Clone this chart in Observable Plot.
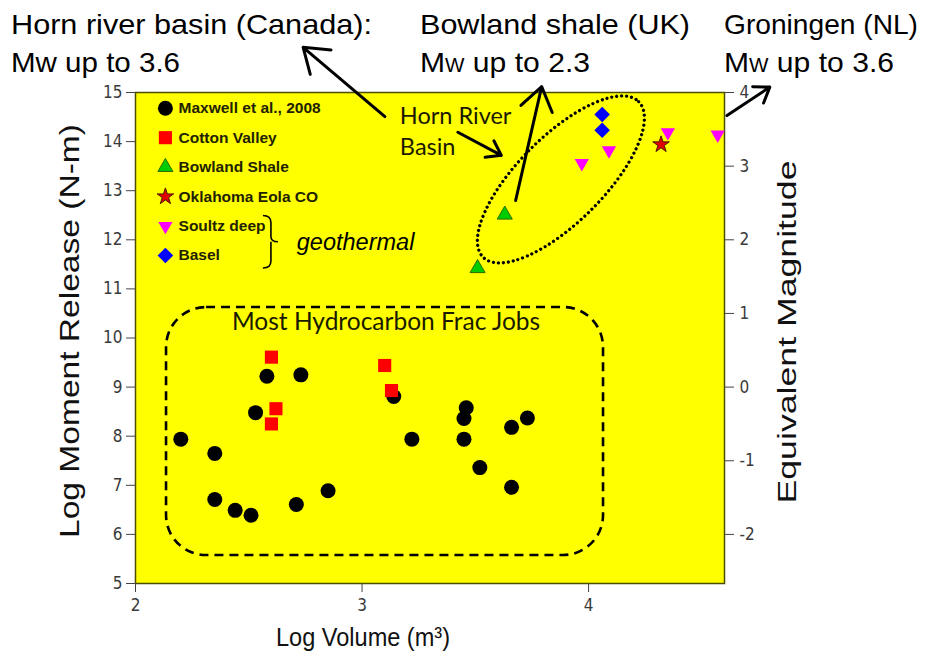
<!DOCTYPE html>
<html>
<head>
<meta charset="utf-8">
<script src="https://cdn.jsdelivr.net/npm/d3@7"></script>
<script src="https://cdn.jsdelivr.net/npm/@observablehq/plot@0.6"></script>
<style>
  html, body { margin: 0; padding: 0; background: #ffffff; }
  #chart svg { display: block; }
</style>
</head>
<body>
<div id="chart"></div>
<script>
// ---- Data: log injected volume (m^3) vs. log seismic moment release (N-m) ----
const seriesNames = ["Maxwell et al., 2008", "Cotton Valley", "Bowland Shale", "Oklahoma Eola CO", "Soultz deep", "Basel"];

const maxwellVolume = [2.20, 2.35, 2.35, 2.44, 2.51, 2.53, 2.58, 2.73, 2.71, 2.85, 3.14, 3.22, 3.46, 3.45, 3.45, 3.52, 3.66, 3.73, 3.66];
const maxwellMoment = [7.94, 7.65, 6.71, 6.49, 6.39, 8.48, 9.22, 9.25, 6.61, 6.89, 8.81, 7.94, 8.58, 8.36, 7.94, 7.36, 8.18, 8.37, 6.96];

const cottonVolume = [2.60, 2.62, 2.60, 3.10, 3.13];
const cottonMoment = [9.61, 8.56, 8.25, 9.44, 8.93];

const bowlandVolume = [3.63, 3.51];
const bowlandMoment = [12.51, 11.42];

const oklahomaVolume = [4.32];
const oklahomaMoment = [13.94];

const soultzVolume = [3.97, 4.09, 4.35, 4.57];
const soultzMoment = [13.56, 13.82, 14.19, 14.14];

const baselVolume = [4.06, 4.06];
const baselMoment = [14.55, 14.23];

// ---- Axes ----
const xTicks = [2, 3, 4];
const yTicks = [5, 6, 7, 8, 9, 10, 11, 12, 13, 14, 15];
const magnitudeTicks = [-2, -1, 0, 1, 2, 3, 4];
// Mw = (2/3) log M0 - 6  ->  log M0 = 1.5 (Mw + 6)
const momentOfMagnitude = m => 1.5 * (m + 6);

// ---- Annotation geometry (data units) ----
const hydrocarbonBox = {x1: 2.137, x2: 4.066, y1: 5.57, y2: 10.62};
const pointers = [
  {x1: 3.101, y1: 14.51, x2: 2.740, y2: 15.92},  // Horn River Basin -> Canada title
  {x1: 3.423, y1: 14.19, x2: 3.615, y2: 13.72},  // label -> ellipse
  {x1: 3.678, y1: 12.80, x2: 3.793, y2: 15.12},  // Bowland -> UK title
  {x1: 4.611, y1: 14.53, x2: 4.800, y2: 15.11}   // Groningen title
];
const basinEllipse = {x: 3.880, y: 13.22, rx: 110, ry: 43, angle: -45};
const legendSymbolX = 2.132, legendTextX = 2.19, legendTop = 14.68, legendStep = 0.6;

const series = [
  {name: seriesNames[0], volume: maxwellVolume, moment: maxwellMoment},
  {name: seriesNames[1], volume: cottonVolume, moment: cottonMoment},
  {name: seriesNames[2], volume: bowlandVolume, moment: bowlandMoment},
  {name: seriesNames[3], volume: oklahomaVolume, moment: oklahomaMoment},
  {name: seriesNames[4], volume: soultzVolume, moment: soultzMoment},
  {name: seriesNames[5], volume: baselVolume, moment: baselMoment}
];
const rows = series.flatMap(s => s.volume.map((v, i) => ({series: s.name, volume: v, moment: s.moment[i]})));

const markStyle = {
  "Maxwell et al., 2008": {symbol: "circle", r: 7.5, fill: "#000000", stroke: "none"},
  "Cotton Valley":        {symbol: "square", r: 7.4, fill: "#ff0000", stroke: "none"},
  "Bowland Shale":        {symbol: "triangle", r: 5.6, fill: "#00cc00", stroke: "#2e6b00", strokeWidth: 1},
  "Oklahoma Eola CO":     {symbol: "star", r: 5.2, fill: "#e00000", stroke: "#4a1a00", strokeWidth: 1},
  "Soultz deep":          {symbol: "triangle", r: 5.3, fill: "#ff00ff", stroke: "none", rotate: 180},
  "Basel":                {symbol: "square", r: 6.2, fill: "#0000ff", stroke: "none", rotate: 45}
};

const sans = "Liberation Sans, Arial, Helvetica, sans-serif";
const humanist = "Lato, 'Open Sans', sans-serif";

const titleLeft = "Log Moment Release (N-m)";
const titleRight = "Equivalent Magnitude";
const titleBottom = "Log Volume (m³)";

const chart = Plot.plot({
  width: 940,
  height: 662,
  marginLeft: 135,
  marginRight: 216,
  marginTop: 92,
  marginBottom: 79,
  style: {fontFamily: "'Liberation Sans Narrow', 'Arial Narrow', 'DejaVu Sans Condensed', sans-serif", fontSize: "17px", color: "#3a3a3a", background: "#ffffff"},
  x: {domain: [2, 4.6]},
  y: {domain: [5, 15]},
  marks: [
    Plot.frame({fill: "#ffff00", stroke: "#4d4d00", strokeWidth: 1.5}),
    Plot.axisX(xTicks, {tickSize: 9, tickPadding: 6, label: null, stroke: "#444", tickFormat: d => String(d)}),
    Plot.axisY(yTicks, {anchor: "left", tickSize: 9, tickPadding: 4, label: null, stroke: "#444", tickFormat: d => String(d)}),
    Plot.axisY(magnitudeTicks.map(momentOfMagnitude), {
      anchor: "right", tickSize: 9, tickPadding: 6, label: null, stroke: "#444",
      tickFormat: d => String(Math.round(d / 1.5 - 6))
    }),
    // Hydrocarbon fracturing envelope
    Plot.rect([hydrocarbonBox], {
      x1: "x1", x2: "x2", y1: "y1", y2: "y2", rx: 40,
      fill: "none", stroke: "#000", strokeWidth: 2.6, strokeDasharray: "9,6"
    }),
    Plot.text(["Most Hydrocarbon Frac Jobs"], {
      x: () => 3.106, y: () => 10.32, fontFamily: humanist, fontSize: 24.5, fill: "#1a1a00"
    }),
    Plot.text(["Horn River", "Basin"], {
      x: () => 3.167, y: (d, i) => 14.51 - i * 0.63, textAnchor: "start",
      fontFamily: humanist, fontSize: 23.5, fill: "#1a1a00"
    }),
    // Observed data
    ...seriesNames.map(name => Plot.dot(rows.filter(d => d.series === name), {x: "volume", y: "moment", ...markStyle[name]})),
    // Legend
    ...seriesNames.map((name, i) => Plot.dot([name], {x: () => legendSymbolX, y: () => legendTop - i * legendStep, ...markStyle[name]})),
    Plot.text(seriesNames, {
      x: () => legendTextX, y: (d, i) => legendTop - i * legendStep, textAnchor: "start",
      fontFamily: sans, fontWeight: "bold", fontSize: 15.5, fill: "#222200"
    }),
    Plot.text(["geothermal"], {
      x: () => 2.712, y: () => 11.95, textAnchor: "start",
      fontFamily: sans, fontStyle: "italic", fontSize: 23.5, fill: "#000"
    }),
    // Pointers
    Plot.arrow(pointers, {x1: "x1", y1: "y1", x2: "x2", y2: "y2", stroke: "#000", strokeWidth: 3, headLength: 14, headAngle: 70}),
    // Axis titles
    Plot.text([titleLeft], {
      frameAnchor: "left", textAnchor: "middle", dx: -65, dy: -7, rotate: -90, fontFamily: sans, fontSize: 28, fill: "#111"
    }),
    Plot.text([titleRight], {
      frameAnchor: "right", textAnchor: "middle", dx: 63, dy: -6, rotate: -90, fontFamily: sans, fontSize: 26, fill: "#111"
    }),
    Plot.text([titleBottom], {
      frameAnchor: "bottom", dx: -67, dy: 62, fontFamily: sans, fontSize: 26.5, fill: "#111"
    })
  ]
});

document.getElementById("chart").appendChild(chart);

// Extra annotation shapes placed through the chart's scales
const sx = chart.scale("x").apply, sy = chart.scale("y").apply;
const svg = d3.select(chart);

// Axis titles are set to fixed run lengths
const titleLengths = {[titleLeft]: 414, [titleRight]: 343, [titleBottom]: 174};
svg.selectAll("text").each(function () {
  const len = titleLengths[this.textContent];
  if (len) d3.select(this).attr("textLength", len).attr("lengthAdjust", "spacingAndGlyphs");
});

svg.append("ellipse")
  .attr("cx", 0).attr("cy", 0)
  .attr("rx", basinEllipse.rx).attr("ry", basinEllipse.ry)
  .attr("transform", `translate(${sx(basinEllipse.x)},${sy(basinEllipse.y)}) rotate(${basinEllipse.angle})`)
  .attr("fill", "none").attr("stroke", "#000").attr("stroke-width", 3.2)
  .attr("stroke-linecap", "round").attr("stroke-dasharray", "0 5");

// Curly bracket grouping the geothermal sites
{
  const yA = sy(legendTop - 4 * legendStep) - 10, yB = sy(legendTop - 5 * legendStep) + 13;
  const xb = sx(2.6) , ym = (yA + yB) / 2;
  svg.append("path")
    .attr("d", `M${xb - 8},${yA} Q${xb},${yA} ${xb},${yA + 7} L${xb},${ym - 5} Q${xb},${ym} ${xb + 7},${ym} M${xb},${ym} Q${xb},${ym} ${xb},${ym + 5} L${xb},${yB - 7} Q${xb},${yB} ${xb - 8},${yB}`)
    .attr("fill", "none").attr("stroke", "#000").attr("stroke-width", 1.6);
}

// Site headlines above the plot
const headlines = [
  {x: 11, lines: [{parts: ["Horn river basin (Canada):"], len: 361}, {parts: ["Mw up to 3.6"], len: 169}]},
  {x: 420, lines: [{parts: ["Bowland shale (UK)"], len: 270}, {parts: ["M", "W", " up to 2.3"], len: 170}]},
  {x: 724, lines: [{parts: ["Groningen (NL)"], len: 194}, {parts: ["M", "W", " up to 3.6"], len: 170}]}
];
headlines.forEach(h => {
  h.lines.forEach((line, li) => {
    const t = svg.append("text")
      .attr("x", h.x).attr("y", 34 + li * 38)
      .attr("text-anchor", "start")
      .attr("font-family", sans).attr("font-size", 28.5).attr("fill", "#000")
      .attr("textLength", line.len).attr("lengthAdjust", "spacingAndGlyphs");
    line.parts.forEach((p, pi) => {
      t.append("tspan").attr("font-size", line.parts.length > 1 && pi === 1 ? 19.5 : 28.5).text(p);
    });
  });
});
</script>
</body>
</html>
